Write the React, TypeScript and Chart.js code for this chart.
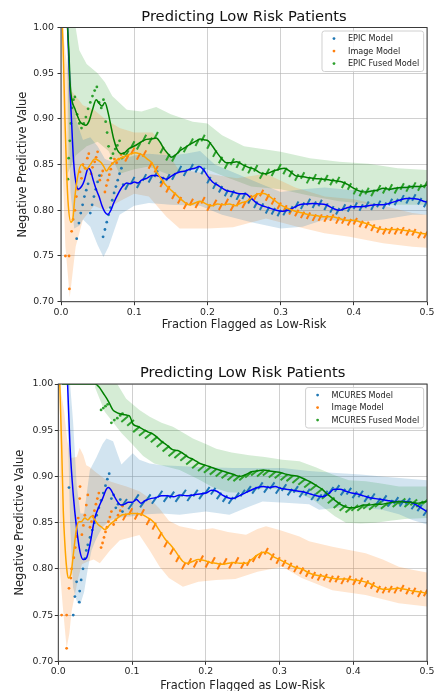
import React, { useEffect, useRef } from 'react';
import { Chart, registerables } from 'chart.js';
Chart.register(...registerables);

type P = [number, number];
const FONT = '"DejaVu Sans", Verdana, sans-serif';

const X_TICKS = [0, 0.1, 0.2, 0.3, 0.4, 0.5];
const X_TICK_LABELS = ['0.0', '0.1', '0.2', '0.3', '0.4', '0.5'];
const Y_TICKS = [0.7, 0.75, 0.8, 0.85, 0.9, 0.95, 1.0];
const Y_TICK_LABELS = ['0.70', '0.75', '0.80', '0.85', '0.90', '0.95', '1.00'];
const TITLE = 'Predicting Low Risk Patients';
const X_LABEL = 'Fraction Flagged as Low-Risk';
const Y_LABEL = 'Negative Predictive Value';
const TOP_NAMES = ['EPIC Model', 'Image Model', 'EPIC Fused Model'];
const BOTTOM_NAMES = ['MCURES Model', 'Image Model', 'MCURES Fused Model'];
const DOT_COLORS = ['#1f77b4', '#ff7f0e', '#2ca02c'];
const LINE_COLORS = ['#0000ff', '#ffa500', '#008000'];
const BAND_COLORS = ['rgba(31,119,180,0.2)', 'rgba(255,127,14,0.2)', 'rgba(44,160,44,0.2)'];

// thresholds where the later (dense) NPV samples are shown
const DASH_X = [
  0.090, 0.098, 0.106, 0.114, 0.122, 0.130, 0.138, 0.146, 0.154, 0.162,
  0.170, 0.178, 0.186, 0.194, 0.202, 0.210, 0.218, 0.226, 0.234, 0.242,
  0.250, 0.258, 0.266, 0.274, 0.282, 0.290, 0.298, 0.306, 0.314, 0.322,
  0.330, 0.338, 0.346, 0.354, 0.362, 0.370, 0.378, 0.386, 0.394, 0.402,
  0.410, 0.418, 0.426, 0.434, 0.442, 0.450, 0.458, 0.466, 0.474, 0.482,
  0.490, 0.498,
];

// ---------- TOP PANEL (EPIC) ----------
const TOP_EPIC_DOTS: P[] = [[0.0214,0.769],[0.0245,0.786],[0.027,0.797],[0.0295,0.806],[0.032,0.815],[0.0345,0.822],[0.037,0.829],[0.040,0.797],[0.0425,0.806],[0.045,0.815],[0.0475,0.823],[0.050,0.831],[0.0525,0.838],[0.0575,0.771],[0.060,0.779],[0.0625,0.787],[0.065,0.795],[0.0675,0.803],[0.070,0.811],[0.0725,0.819],[0.075,0.826],[0.0775,0.833],[0.080,0.840],[0.0825,0.846],[0.085,0.828]];
const TOP_EPIC_DASH = [
  0.826,0.833,0.828,0.836,0.834,0.840,0.833,0.836,0.837,0.845,
  0.841,0.847,0.845,0.843,0.833,0.827,0.823,0.819,0.818,0.815,
  0.816,0.811,0.806,0.804,0.800,0.799,0.797,0.798,0.801,0.806,
  0.805,0.809,0.806,0.808,0.804,0.801,0.799,0.803,0.802,0.805,
  0.803,0.806,0.804,0.807,0.805,0.809,0.809,0.813,0.811,0.814,
  0.810,0.807,
];
const TOP_EPIC_LINE: P[] = [[0.009,1.0],[0.0123,0.933],[0.0145,0.896],[0.0168,0.859],[0.019,0.838],[0.0236,0.823],[0.028,0.826],[0.032,0.833],[0.035,0.842],[0.037,0.846],[0.040,0.844],[0.044,0.833],[0.048,0.823],[0.052,0.815],[0.056,0.805],[0.060,0.798],[0.064,0.7955],[0.068,0.80],[0.072,0.808],[0.078,0.818],[0.084,0.826],[0.090,0.830],[0.095,0.829],[0.100,0.831],[0.105,0.830],[0.110,0.833],[0.117,0.835],[0.124,0.838],[0.130,0.838],[0.137,0.836],[0.144,0.834],[0.150,0.837],[0.156,0.840],[0.162,0.842],[0.170,0.843],[0.176,0.845],[0.183,0.846],[0.189,0.848],[0.195,0.844],[0.200,0.838],[0.207,0.831],[0.215,0.827],[0.225,0.822],[0.235,0.820],[0.244,0.818],[0.252,0.818],[0.260,0.813],[0.267,0.808],[0.275,0.805],[0.283,0.803],[0.294,0.800],[0.302,0.799],[0.310,0.800],[0.318,0.803],[0.326,0.806],[0.335,0.807],[0.344,0.8075],[0.352,0.807],[0.362,0.806],[0.372,0.802],[0.380,0.800],[0.388,0.802],[0.398,0.804],[0.410,0.804],[0.420,0.805],[0.430,0.806],[0.440,0.806],[0.450,0.808],[0.462,0.811],[0.472,0.813],[0.480,0.813],[0.488,0.812],[0.495,0.810],[0.500,0.809]];
const TOP_EPIC_UP: P[] = [[0.009,1.0],[0.015,0.93],[0.02,0.90],[0.03,0.877],[0.04,0.88],[0.05,0.87],[0.06,0.856],[0.07,0.853],[0.08,0.855],[0.1,0.86],[0.12,0.862],[0.15,0.86],[0.17,0.862],[0.19,0.865],[0.21,0.85],[0.24,0.84],[0.27,0.83],[0.30,0.82],[0.33,0.823],[0.36,0.825],[0.40,0.822],[0.44,0.823],[0.48,0.828],[0.50,0.825]];
const TOP_EPIC_LO: P[] = [[0.009,0.95],[0.013,0.82],[0.018,0.78],[0.025,0.783],[0.03,0.79],[0.04,0.782],[0.05,0.762],[0.058,0.749],[0.065,0.76],[0.08,0.795],[0.1,0.805],[0.12,0.808],[0.15,0.806],[0.19,0.805],[0.22,0.795],[0.26,0.787],[0.30,0.78],[0.33,0.782],[0.36,0.79],[0.40,0.787],[0.44,0.79],[0.48,0.795],[0.50,0.795]];

const TOP_IMG_DOTS: P[] = [[0.006,0.75],[0.011,0.75],[0.0115,0.714],[0.0145,0.777],[0.0165,0.79],[0.019,0.80],[0.021,0.815],[0.023,0.823],[0.026,0.842],[0.028,0.835],[0.030,0.85],[0.033,0.846],[0.036,0.857],[0.038,0.862],[0.041,0.84],[0.043,0.847],[0.046,0.853],[0.048,0.858],[0.050,0.864],[0.053,0.833],[0.055,0.838],[0.057,0.843],[0.060,0.82],[0.062,0.827],[0.064,0.833],[0.066,0.839],[0.068,0.845],[0.070,0.851],[0.073,0.856],[0.076,0.852],[0.079,0.856],[0.082,0.861],[0.085,0.858]];
const TOP_IMG_DASH = [
  0.857,0.865,0.859,0.862,0.849,0.845,0.829,0.823,0.816,0.811,
  0.805,0.809,0.806,0.811,0.803,0.808,0.804,0.809,0.803,0.808,
  0.806,0.813,0.815,0.819,0.814,0.810,0.805,0.802,0.799,0.797,
  0.795,0.794,0.792,0.792,0.791,0.792,0.789,0.789,0.787,0.788,
  0.785,0.784,0.781,0.779,0.777,0.778,0.777,0.778,0.776,0.776,
  0.773,0.773,
];
const TOP_IMG_LINE: P[] = [[0.002,1.0],[0.0035,0.96],[0.0055,0.896],[0.0077,0.841],[0.010,0.805],[0.0136,0.787],[0.016,0.79],[0.019,0.815],[0.023,0.838],[0.028,0.85],[0.032,0.847],[0.035,0.845],[0.040,0.85],[0.046,0.856],[0.050,0.855],[0.055,0.852],[0.059,0.847],[0.062,0.843],[0.066,0.847],[0.070,0.851],[0.076,0.855],[0.083,0.8575],[0.090,0.860],[0.096,0.862],[0.101,0.863],[0.107,0.862],[0.112,0.860],[0.118,0.856],[0.124,0.852],[0.130,0.843],[0.137,0.834],[0.145,0.826],[0.152,0.821],[0.160,0.815],[0.167,0.810],[0.175,0.806],[0.183,0.808],[0.190,0.810],[0.198,0.807],[0.206,0.805],[0.214,0.807],[0.222,0.806],[0.230,0.807],[0.238,0.805],[0.246,0.808],[0.254,0.810],[0.262,0.815],[0.270,0.818],[0.277,0.8185],[0.285,0.815],[0.293,0.810],[0.300,0.806],[0.310,0.802],[0.320,0.799],[0.330,0.797],[0.340,0.795],[0.350,0.794],[0.360,0.793],[0.370,0.793],[0.380,0.791],[0.390,0.789],[0.400,0.789],[0.410,0.787],[0.420,0.785],[0.430,0.781],[0.440,0.779],[0.450,0.779],[0.460,0.779],[0.470,0.778],[0.480,0.777],[0.490,0.775],[0.500,0.774]];
const TOP_IMG_UP: P[] = [[0.002,1.0],[0.008,0.96],[0.015,0.93],[0.03,0.915],[0.045,0.91],[0.06,0.90],[0.08,0.89],[0.1,0.885],[0.125,0.885],[0.14,0.87],[0.16,0.845],[0.2,0.84],[0.24,0.835],[0.28,0.84],[0.32,0.825],[0.36,0.815],[0.40,0.812],[0.44,0.805],[0.48,0.797],[0.50,0.795]];
const TOP_IMG_LO: P[] = [[0.002,0.85],[0.006,0.76],[0.012,0.705],[0.02,0.76],[0.03,0.79],[0.045,0.805],[0.06,0.80],[0.08,0.81],[0.1,0.818],[0.12,0.815],[0.144,0.793],[0.162,0.78],[0.2,0.78],[0.235,0.7815],[0.28,0.791],[0.3256,0.7815],[0.36,0.775],[0.394,0.771],[0.44,0.764],[0.48,0.76],[0.50,0.759]];

const TOP_FUSED_DOTS: P[] = [[0.0095,0.834],[0.0105,0.857],[0.012,0.876],[0.0135,0.895],[0.015,0.912],[0.017,0.921],[0.019,0.924],[0.022,0.905],[0.025,0.895],[0.028,0.89],[0.031,0.895],[0.034,0.902],[0.037,0.911],[0.040,0.918],[0.043,0.925],[0.046,0.931],[0.049,0.935],[0.052,0.918],[0.055,0.912],[0.058,0.921],[0.061,0.897],[0.063,0.885],[0.065,0.87],[0.068,0.857],[0.071,0.862],[0.074,0.867],[0.077,0.871],[0.080,0.876],[0.083,0.857],[0.086,0.862]];
const TOP_FUSED_DASH = [
  0.862,0.872,0.870,0.879,0.876,0.882,0.866,0.858,0.857,0.866,
  0.867,0.875,0.874,0.879,0.871,0.862,0.855,0.849,0.853,0.850,
  0.847,0.844,0.846,0.838,0.842,0.841,0.847,0.843,0.840,0.836,
  0.838,0.833,0.836,0.832,0.835,0.831,0.833,0.828,0.826,0.821,
  0.819,0.821,0.819,0.824,0.822,0.825,0.822,0.826,0.824,0.827,
  0.825,0.828,
];
const TOP_FUSED_LINE: P[] = [[0.009,1.0],[0.011,0.969],[0.0123,0.94],[0.0145,0.922],[0.019,0.911],[0.026,0.897],[0.0304,0.894],[0.034,0.893],[0.038,0.897],[0.043,0.91],[0.048,0.921],[0.052,0.917],[0.056,0.914],[0.060,0.918],[0.064,0.908],[0.068,0.893],[0.072,0.878],[0.077,0.866],[0.082,0.862],[0.087,0.863],[0.092,0.867],[0.098,0.8695],[0.104,0.872],[0.110,0.875],[0.117,0.8776],[0.124,0.878],[0.130,0.879],[0.135,0.875],[0.140,0.868],[0.146,0.862],[0.151,0.858],[0.157,0.861],[0.164,0.866],[0.171,0.8695],[0.178,0.873],[0.185,0.876],[0.190,0.878],[0.196,0.877],[0.201,0.876],[0.207,0.870],[0.214,0.862],[0.220,0.856],[0.226,0.852],[0.232,0.852],[0.240,0.853],[0.248,0.850],[0.256,0.847],[0.264,0.845],[0.272,0.841],[0.280,0.840],[0.290,0.843],[0.298,0.845],[0.305,0.846],[0.312,0.843],[0.320,0.838],[0.328,0.837],[0.336,0.836],[0.344,0.835],[0.352,0.8345],[0.360,0.834],[0.368,0.833],[0.376,0.832],[0.384,0.831],[0.392,0.828],[0.400,0.824],[0.408,0.821],[0.416,0.820],[0.424,0.821],[0.432,0.822],[0.440,0.824],[0.448,0.823],[0.456,0.824],[0.464,0.825],[0.472,0.825],[0.480,0.826],[0.490,0.826],[0.500,0.8276]];
const TOP_FUSED_UP: P[] = [[0.009,1.0],[0.02,1.0],[0.025,0.975],[0.035,0.96],[0.05,0.95],[0.06,0.94],[0.07,0.925],[0.09,0.91],[0.11,0.908],[0.13,0.913],[0.15,0.905],[0.18,0.897],[0.20,0.895],[0.22,0.882],[0.25,0.87],[0.30,0.864],[0.34,0.857],[0.38,0.853],[0.42,0.851],[0.46,0.846],[0.50,0.844]];
const TOP_FUSED_LO: P[] = [[0.009,0.84],[0.02,0.86],[0.035,0.87],[0.05,0.875],[0.065,0.865],[0.08,0.84],[0.1,0.845],[0.12,0.848],[0.15,0.838],[0.19,0.848],[0.22,0.838],[0.26,0.826],[0.30,0.823],[0.34,0.816],[0.38,0.81],[0.42,0.807],[0.46,0.806],[0.50,0.806]];

// ---------- BOTTOM PANEL (MCURES) ----------
const BOT_MCURES_DOTS: P[] = [[0.0145,0.888],[0.0203,0.75],[0.0225,0.77],[0.0248,0.786],[0.0284,0.764],[0.029,0.776],[0.031,0.788],[0.0335,0.80],[0.036,0.811],[0.038,0.82],[0.040,0.826],[0.043,0.834],[0.046,0.842],[0.049,0.85],[0.052,0.858],[0.055,0.866],[0.058,0.874],[0.061,0.882],[0.064,0.89],[0.0665,0.897],[0.069,0.903],[0.072,0.876],[0.075,0.88],[0.078,0.866],[0.081,0.87],[0.084,0.875],[0.087,0.862]];
const BOT_MCURES_DASH = [
  0.872,0.868,0.877,0.870,0.877,0.874,0.881,0.876,0.880,0.876,
  0.882,0.877,0.882,0.879,0.885,0.884,0.879,0.876,0.874,0.879,
  0.882,0.886,0.885,0.890,0.886,0.890,0.885,0.888,0.883,0.886,
  0.881,0.883,0.878,0.877,0.881,0.885,0.887,0.883,0.884,0.880,
  0.881,0.876,0.878,0.873,0.876,0.871,0.874,0.871,0.873,0.868,
  0.866,0.861,
];
const BOT_MCURES_LINE: P[] = [[0.0126,1.0],[0.0158,0.934],[0.0203,0.88],[0.0248,0.844],[0.0293,0.819],[0.0338,0.81],[0.0383,0.812],[0.0428,0.826],[0.0495,0.855],[0.055,0.867],[0.060,0.876],[0.065,0.886],[0.068,0.888],[0.071,0.886],[0.075,0.880],[0.080,0.873],[0.085,0.869],[0.090,0.870],[0.095,0.872],[0.100,0.872],[0.106,0.875],[0.112,0.871],[0.118,0.874],[0.125,0.876],[0.132,0.877],[0.140,0.879],[0.148,0.879],[0.156,0.878],[0.165,0.880],[0.174,0.879],[0.183,0.880],[0.192,0.881],[0.200,0.882],[0.208,0.885],[0.215,0.884],[0.222,0.880],[0.230,0.877],[0.237,0.876],[0.245,0.879],[0.253,0.882],[0.261,0.885],[0.270,0.888],[0.278,0.889],[0.286,0.888],[0.294,0.889],[0.302,0.887],[0.310,0.886],[0.318,0.885],[0.326,0.884],[0.334,0.883],[0.342,0.881],[0.350,0.879],[0.358,0.878],[0.366,0.881],[0.374,0.886],[0.382,0.886],[0.390,0.884],[0.398,0.882],[0.406,0.881],[0.414,0.879],[0.422,0.877],[0.430,0.876],[0.438,0.875],[0.446,0.874],[0.454,0.873],[0.462,0.873],[0.470,0.873],[0.478,0.872],[0.486,0.869],[0.494,0.865],[0.500,0.862]];
const BOT_MCURES_UP: P[] = [[0.0126,1.0],[0.016,1.0],[0.02,0.96],[0.025,0.89],[0.03,0.86],[0.035,0.86],[0.0428,0.907],[0.0519,0.921],[0.06,0.935],[0.0653,0.941],[0.0743,0.938],[0.08,0.925],[0.0856,0.913],[0.092,0.918],[0.101,0.925],[0.11,0.918],[0.124,0.914],[0.14,0.912],[0.169,0.911],[0.2,0.91],[0.2365,0.909],[0.27,0.909],[0.304,0.909],[0.34,0.906],[0.3716,0.904],[0.41,0.902],[0.45,0.899],[0.5,0.896]];
const BOT_MCURES_LO: P[] = [[0.0126,0.96],[0.016,0.85],[0.02,0.78],[0.025,0.765],[0.03,0.762],[0.035,0.775],[0.04,0.80],[0.045,0.82],[0.05,0.83],[0.055,0.838],[0.06,0.845],[0.07,0.852],[0.08,0.855],[0.09,0.856],[0.1,0.857],[0.12,0.859],[0.14,0.86],[0.1645,0.8586],[0.2,0.862],[0.232,0.8586],[0.255,0.866],[0.277,0.873],[0.313,0.8712],[0.34,0.87],[0.3536,0.864],[0.394,0.8676],[0.439,0.864],[0.462,0.859],[0.48,0.853],[0.5,0.848]];

const BOT_IMG_DOTS: P[] = [[0.0045,0.75],[0.0113,0.75],[0.0113,0.714],[0.0145,0.779],[0.017,0.79],[0.018,0.80],[0.021,0.812],[0.023,0.823],[0.025,0.835],[0.027,0.855],[0.029,0.876],[0.0295,0.889],[0.032,0.837],[0.034,0.847],[0.036,0.858],[0.038,0.869],[0.040,0.88],[0.043,0.845],[0.045,0.851],[0.047,0.857],[0.049,0.863],[0.051,0.87],[0.053,0.876],[0.055,0.882],[0.058,0.823],[0.060,0.828],[0.062,0.834],[0.064,0.84],[0.066,0.845],[0.068,0.851],[0.070,0.856],[0.072,0.862],[0.075,0.848],[0.078,0.853],[0.081,0.858],[0.084,0.863],[0.087,0.868]];
const BOT_IMG_DASH = [
  0.856,0.862,0.857,0.861,0.851,0.846,0.836,0.827,0.819,0.811,
  0.803,0.808,0.805,0.811,0.805,0.809,0.803,0.808,0.804,0.809,
  0.804,0.807,0.811,0.815,0.819,0.813,0.809,0.806,0.803,0.800,
  0.798,0.795,0.793,0.791,0.791,0.789,0.789,0.787,0.789,0.786,
  0.787,0.784,0.782,0.778,0.777,0.778,0.777,0.779,0.776,0.776,
  0.773,0.774,
];
const BOT_IMG_LINE: P[] = [[0.002,1.0],[0.0045,0.934],[0.0068,0.862],[0.009,0.826],[0.0113,0.801],[0.0135,0.79],[0.017,0.794],[0.0203,0.815],[0.0248,0.844],[0.028,0.851],[0.031,0.851],[0.036,0.855],[0.040,0.853],[0.045,0.857],[0.0495,0.853],[0.054,0.848],[0.059,0.845],[0.063,0.8425],[0.067,0.845],[0.070,0.848],[0.076,0.852],[0.0856,0.858],[0.092,0.859],[0.099,0.860],[0.106,0.860],[0.1126,0.859],[0.120,0.856],[0.126,0.853],[0.131,0.849],[0.135,0.844],[0.140,0.838],[0.145,0.832],[0.152,0.826],[0.158,0.820],[0.164,0.813],[0.169,0.808],[0.175,0.806],[0.182,0.808],[0.190,0.810],[0.198,0.809],[0.206,0.807],[0.214,0.806],[0.222,0.805],[0.230,0.806],[0.238,0.807],[0.246,0.806],[0.254,0.806],[0.262,0.810],[0.270,0.815],[0.278,0.818],[0.284,0.8175],[0.292,0.813],[0.300,0.810],[0.310,0.806],[0.320,0.802],[0.330,0.800],[0.340,0.7955],[0.350,0.793],[0.360,0.792],[0.370,0.790],[0.380,0.789],[0.390,0.789],[0.400,0.788],[0.410,0.787],[0.420,0.785],[0.430,0.781],[0.440,0.778],[0.450,0.778],[0.460,0.779],[0.470,0.778],[0.480,0.776],[0.490,0.775],[0.500,0.7735]];
const BOT_IMG_UP: P[] = [[0.002,1.0],[0.008,0.97],[0.012,0.94],[0.017,0.92],[0.025,0.921],[0.029,0.931],[0.034,0.923],[0.038,0.912],[0.043,0.91],[0.05,0.905],[0.0654,0.896],[0.08,0.892],[0.0924,0.889],[0.11,0.884],[0.124,0.876],[0.1374,0.865],[0.15,0.852],[0.1645,0.846],[0.19,0.842],[0.2095,0.844],[0.23,0.84],[0.2546,0.837],[0.27,0.843],[0.2816,0.846],[0.3,0.842],[0.327,0.835],[0.34,0.83],[0.3716,0.824],[0.4167,0.817],[0.44,0.81],[0.4617,0.8023],[0.48,0.799],[0.5,0.796]];
const BOT_IMG_LO: P[] = [[0.002,0.8],[0.006,0.76],[0.0113,0.714],[0.015,0.73],[0.018,0.754],[0.022,0.77],[0.027,0.79],[0.032,0.805],[0.04,0.808],[0.048,0.81],[0.0563,0.806],[0.07,0.82],[0.0834,0.831],[0.11,0.8366],[0.124,0.82],[0.1374,0.8023],[0.15,0.79],[0.169,0.7806],[0.19,0.786],[0.214,0.788],[0.24,0.789],[0.27,0.797],[0.304,0.8023],[0.33,0.79],[0.3716,0.777],[0.4167,0.7716],[0.44,0.767],[0.4617,0.7627],[0.5,0.7593]];

const BOT_FUSED_DOTS: P[] = [[0.058,0.972],[0.061,0.974],[0.064,0.976],[0.067,0.978],[0.072,0.958],[0.076,0.961],[0.080,0.963],[0.084,0.966],[0.087,0.968]];
const BOT_FUSED_DASH = [
  0.962,0.958,0.951,0.947,0.944,0.940,0.935,0.930,0.925,0.923,
  0.920,0.916,0.912,0.909,0.907,0.905,0.903,0.901,0.899,0.898,
  0.899,0.902,0.904,0.903,0.904,0.902,0.901,0.899,0.898,0.896,
  0.894,0.891,0.888,0.884,0.879,0.874,0.869,0.866,0.864,0.866,
  0.866,0.868,0.867,0.870,0.868,0.871,0.870,0.873,0.870,0.872,
  0.870,0.873,
];
const BOT_FUSED_LINE: P[] = [[0.005,1.0],[0.050,1.0],[0.055,0.997],[0.061,0.990],[0.066,0.984],[0.070,0.978],[0.074,0.972],[0.077,0.970],[0.082,0.968],[0.088,0.967],[0.094,0.966],[0.097,0.965],[0.101,0.957],[0.108,0.954],[0.115,0.951],[0.122,0.948],[0.128,0.946],[0.133,0.943],[0.140,0.938],[0.147,0.934],[0.155,0.929],[0.162,0.928],[0.169,0.925],[0.176,0.921],[0.184,0.918],[0.192,0.914],[0.200,0.912],[0.207,0.910],[0.214,0.908],[0.222,0.906],[0.230,0.904],[0.238,0.902],[0.246,0.900],[0.254,0.902],[0.262,0.905],[0.270,0.906],[0.278,0.907],[0.286,0.906],[0.294,0.905],[0.302,0.904],[0.310,0.902],[0.318,0.901],[0.326,0.900],[0.334,0.897],[0.342,0.894],[0.350,0.890],[0.358,0.886],[0.366,0.880],[0.374,0.875],[0.382,0.870],[0.390,0.867],[0.398,0.866],[0.406,0.867],[0.414,0.869],[0.422,0.869],[0.430,0.870],[0.438,0.870],[0.446,0.871],[0.454,0.872],[0.462,0.873],[0.470,0.872],[0.478,0.872],[0.486,0.871],[0.494,0.872],[0.500,0.873]];
const BOT_FUSED_UP: P[] = [[0.05,1.0],[0.08,1.0],[0.092,0.984],[0.11,0.972],[0.124,0.9646],[0.14,0.958],[0.1554,0.9538],[0.17,0.947],[0.1825,0.941],[0.2,0.935],[0.214,0.93],[0.235,0.926],[0.259,0.923],[0.28,0.921],[0.304,0.918],[0.327,0.9163],[0.349,0.91],[0.372,0.902],[0.394,0.896],[0.417,0.8947],[0.44,0.892],[0.462,0.889],[0.48,0.889],[0.5,0.889]];
const BOT_FUSED_LO: P[] = [[0.05,0.996],[0.063,0.97],[0.0856,0.947],[0.1,0.935],[0.115,0.922],[0.13,0.914],[0.1645,0.907],[0.19,0.897],[0.21,0.888],[0.23,0.883],[0.255,0.882],[0.28,0.888],[0.3,0.886],[0.325,0.882],[0.345,0.875],[0.36,0.866],[0.375,0.857],[0.39,0.85],[0.41,0.849],[0.43,0.85],[0.45,0.852],[0.47,0.854],[0.5,0.855]];

interface SeriesDef { dots: P[]; dash: number[]; line: P[]; up: P[]; lo: P[]; dashR: number; dashRot: number; }
interface PanelDef {
  names: string[]; series: SeriesDef[];
  canvasTop: number; canvasH: number; padRight: number; yWidth: number; xHeight: number;
  titlePadTop: number; titlePadBottom: number; yTitlePad: number; xTitlePad: number; yTickPad: number;
}

const PANELS: PanelDef[] = [
  {
    names: TOP_NAMES,
    series: [
      { dots: TOP_EPIC_DOTS, dash: TOP_EPIC_DASH, line: TOP_EPIC_LINE, up: TOP_EPIC_UP, lo: TOP_EPIC_LO, dashR: 3.7, dashRot: -62 },
      { dots: TOP_IMG_DOTS, dash: TOP_IMG_DASH, line: TOP_IMG_LINE, up: TOP_IMG_UP, lo: TOP_IMG_LO, dashR: 3.7, dashRot: -62 },
      { dots: TOP_FUSED_DOTS, dash: TOP_FUSED_DASH, line: TOP_FUSED_LINE, up: TOP_FUSED_UP, lo: TOP_FUSED_LO, dashR: 3.7, dashRot: -62 },
    ],
    canvasTop: 0, canvasH: 345, padRight: 7.7, yWidth: 61, xHeight: 43.3,
    titlePadTop: 9.75, titlePadBottom: 3.05, yTitlePad: 16.2, xTitlePad: 13.2, yTickPad: 3.5,
  },
  {
    names: BOTTOM_NAMES,
    series: [
      { dots: BOT_MCURES_DOTS, dash: BOT_MCURES_DASH, line: BOT_MCURES_LINE, up: BOT_MCURES_UP, lo: BOT_MCURES_LO, dashR: 4.0, dashRot: -55 },
      { dots: BOT_IMG_DOTS, dash: BOT_IMG_DASH, line: BOT_IMG_LINE, up: BOT_IMG_UP, lo: BOT_IMG_LO, dashR: 3.7, dashRot: -62 },
      { dots: BOT_FUSED_DOTS, dash: BOT_FUSED_DASH, line: BOT_FUSED_LINE, up: BOT_FUSED_UP, lo: BOT_FUSED_LO, dashR: 4.4, dashRot: -40 },
    ],
    canvasTop: 345, canvasH: 360, padRight: 7.7, yWidth: 58.3, xHeight: 43.7,
    titlePadTop: 20.65, titlePadBottom: 3.65, yTitlePad: 13.2, xTitlePad: 12.2, yTickPad: 1.5,
  },
];

const toXY = (pts: P[]) => pts.map(([x, y]) => ({ x, y }));

function buildDatasets(series: SeriesDef[]) {
  const ds: any[] = [];
  series.forEach((s, i) => {
    ds.push({
      data: toXY([...s.up, ...s.lo.slice().reverse()]),
      borderWidth: 0, borderColor: 'rgba(0,0,0,0)', backgroundColor: BAND_COLORS[i],
      fill: 'shape', pointRadius: 0, tension: 0, order: 30,
    });
    ds.push({
      data: toXY(s.dots), showLine: false, pointStyle: 'circle', pointRadius: 1.4,
      pointBackgroundColor: DOT_COLORS[i], pointBorderWidth: 0, order: 20, fill: false,
    });
    ds.push({
      data: DASH_X.map((x, j) => ({ x, y: s.dash[j] })), showLine: false, pointStyle: 'line',
      pointRadius: s.dashR, pointRotation: s.dashRot, pointBorderWidth: 2,
      pointBorderColor: DOT_COLORS[i], pointBackgroundColor: DOT_COLORS[i], order: 20, fill: false,
    });
    ds.push({
      data: toXY(s.line), borderColor: LINE_COLORS[i], borderWidth: 1.5, pointRadius: 0,
      cubicInterpolationMode: 'monotone', fill: false, order: 12 - i,
    });
  });
  return ds;
}

function makeConfig(p: PanelDef): any {
  const framePlugin = {
    id: 'frame',
    afterDatasetsDraw(chart: any) {
      const { ctx, chartArea: a } = chart;
      ctx.save();
      ctx.strokeStyle = '#3a3a3a';
      ctx.lineWidth = 1;
      ctx.strokeRect(a.left, a.top, a.right - a.left, a.bottom - a.top);
      ctx.restore();
    },
  };
  const legendPlugin = {
    id: 'boxLegend',
    afterDraw(chart: any) {
      const { ctx, chartArea: a } = chart;
      ctx.save();
      ctx.font = `8.1px ${FONT}`;
      const tw = Math.max(...p.names.map((n) => ctx.measureText(n).width));
      const w = 26 + tw + 4.5;
      const h = 40.5;
      const right = a.right - 3.4;
      const left = right - w;
      const top = a.top + 3.5;
      const r = 2.5;
      ctx.beginPath();
      ctx.moveTo(left + r, top);
      ctx.lineTo(right - r, top);
      ctx.quadraticCurveTo(right, top, right, top + r);
      ctx.lineTo(right, top + h - r);
      ctx.quadraticCurveTo(right, top + h, right - r, top + h);
      ctx.lineTo(left + r, top + h);
      ctx.quadraticCurveTo(left, top + h, left, top + h - r);
      ctx.lineTo(left, top + r);
      ctx.quadraticCurveTo(left, top, left + r, top);
      ctx.closePath();
      ctx.fillStyle = 'rgba(255,255,255,0.8)';
      ctx.fill();
      ctx.strokeStyle = '#d0d0d0';
      ctx.lineWidth = 1;
      ctx.stroke();
      p.names.forEach((n, i) => {
        const y = top + 7.6 + i * 12.5;
        ctx.beginPath();
        ctx.arc(left + 12, y, 1.4, 0, Math.PI * 2);
        ctx.fillStyle = DOT_COLORS[i];
        ctx.fill();
        ctx.fillStyle = '#222';
        ctx.textBaseline = 'middle';
        ctx.textAlign = 'left';
        ctx.fillText(n, left + 26, y + 0.5);
      });
      ctx.restore();
    },
  };
  const gridCommon = {
    color: 'rgba(176,176,176,0.6)', lineWidth: 1, drawTicks: true, tickLength: 3.5,
    tickColor: '#333', tickWidth: 1,
  };
  return {
    type: 'line',
    data: { datasets: buildDatasets(p.series) },
    options: {
      responsive: false, animation: false, events: [],
      layout: { padding: { left: 0, right: p.padRight, top: 0, bottom: 0 } },
      plugins: {
        legend: { display: false },
        tooltip: { enabled: false },
        title: {
          display: true, text: TITLE, fullSize: false, color: '#111',
          font: { family: FONT, size: 14.7, weight: 'normal', lineHeight: 1 },
          padding: { top: p.titlePadTop, bottom: p.titlePadBottom },
        },
      },
      scales: {
        x: {
          type: 'linear', min: 0, max: 0.5,
          afterBuildTicks: (s: any) => { s.ticks = X_TICKS.map((v) => ({ value: v })); },
          afterFit: (s: any) => { s.height = p.xHeight; },
          ticks: {
            callback: (_v: any, i: number) => X_TICK_LABELS[i], autoSkip: false, maxRotation: 0,
            font: { family: FONT, size: 9.4 }, color: '#262626', padding: 1.5,
          },
          grid: gridCommon,
          border: { display: false },
          title: {
            display: true, text: X_LABEL, color: '#222',
            font: { family: FONT, size: 11.4 }, padding: { top: 0, bottom: p.xTitlePad },
          },
        },
        y: {
          type: 'linear', min: 0.7, max: 1.0,
          afterBuildTicks: (s: any) => { s.ticks = Y_TICKS.map((v) => ({ value: v })); },
          afterFit: (s: any) => { s.width = p.yWidth; },
          ticks: {
            callback: (_v: any, i: number) => Y_TICK_LABELS[i], autoSkip: false,
            font: { family: FONT, size: 9.4 }, color: '#262626', padding: p.yTickPad,
          },
          grid: gridCommon,
          border: { display: false },
          title: {
            display: true, text: Y_LABEL, color: '#222',
            font: { family: FONT, size: 11.4 }, padding: { top: p.yTitlePad, bottom: 0 },
          },
        },
      },
    },
    plugins: [framePlugin, legendPlugin],
  };
}

function PanelChart({ panel }: { panel: PanelDef }) {
  const ref = useRef<HTMLCanvasElement>(null);
  useEffect(() => {
    const chart = new Chart(ref.current as HTMLCanvasElement, makeConfig(panel));
    return () => chart.destroy();
  }, [panel]);
  return (
    <canvas
      ref={ref}
      width={436}
      height={panel.canvasH}
      style={{ position: 'absolute', left: 0, top: panel.canvasTop, width: 436, height: panel.canvasH }}
    />
  );
}

export default function App() {
  return (
    <div style={{ position: 'fixed', left: 0, top: 0, width: 436, height: 691, overflow: 'hidden', background: '#fff' }}>
      {PANELS.map((p, i) => <PanelChart key={i} panel={p} />)}
    </div>
  );
}
